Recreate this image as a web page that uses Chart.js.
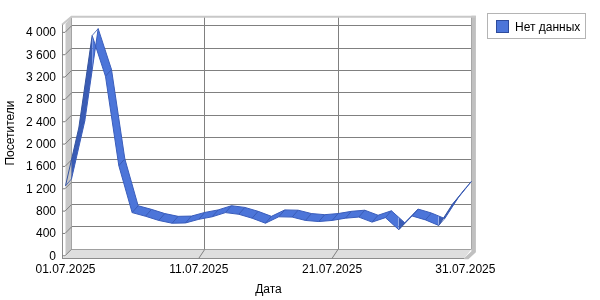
<!DOCTYPE html>
<html lang="ru">
<head>
    <meta charset="UTF-8">
    <title>Посетители</title>
    <script src="https://cdn.jsdelivr.net/npm/chart.js"></script>
    <style>
        body { margin: 0; background: #fff; font-family: 'Liberation Sans', Arial, sans-serif; }
        .wrap { position: relative; width: 600px; height: 300px; }
        /* Legende als HTML-Kasten rechts oben */
        .legend { position: absolute; left: 487px; top: 13px; width: 97px; height: 24px;
                  border: 1px solid #b4b4b4; font-size: 12px; line-height: 14px; color: #000; }
        .legend i { position: absolute; left: 8px; top: 6px; width: 11px; height: 11px;
                    background: #4c75d9; border: 1px solid #2d4b9c; }
        .legend span { position: absolute; left: 27px; top: 6px; white-space: nowrap; }
    </style>
</head>
<body>
<div class="wrap">
    <canvas id="chart" width="600" height="300"></canvas>
    <div class="legend"><i></i><span>Нет данных</span></div>
</div>
<script>
    // --- Daten ---
    const seriesName = 'Нет данных';
    const dayNumbers = [1, 2, 3, 4, 5, 6, 7, 8, 9, 10, 11, 12, 13, 14, 15, 16,
                        17, 18, 19, 20, 21, 22, 23, 24, 25, 26, 27, 28, 29, 30, 31];
    const visitors = [1260, 2300, 3950, 3220, 1620, 780, 715, 640, 590, 595, 660,
                      705, 780, 750, 680, 590, 705, 700, 640, 620, 640, 680,
                      700, 610, 690, 475, 720, 650, 550, 920, 1215];
    const xTickDays = [1, 11, 21, 31];
    const xTickLabels = ['01.07.2025', '11.07.2025', '21.07.2025', '31.07.2025'];
    const yTickValues = [0, 400, 800, 1200, 1600, 2000, 2400, 2800, 3200, 3600, 4000];

    // --- 3D-Geometrie (Pixel) ---
    const AREA_LEFT = 65.5, AREA_TOP = 13, AREA_RIGHT = 471.4, AREA_BOTTOM = 249.3;
    const RIB_DX = 6, RIB_DY = 7;          // Tiefe des Bandes
    const FRONT_X = 62;                    // vordere Achse
    const Y_MAX = 4164;
    const pxPerDay = (AREA_RIGHT - AREA_LEFT) / (31 - 1 + RIB_DX / 13.33);
    const X_MIN = 1 - RIB_DX / pxPerDay;
    const Y_SHIFT = RIB_DY * Y_MAX / (AREA_BOTTOM - AREA_TOP);

    const light = '#4c75d9', dark = '#3a5cb5', edge = '#3a5dbb';
    const fmt = v => String(v).replace(/\B(?=(\d{3})+(?!\d))/g, ' ');

    Chart.defaults.font.family = "'Liberation Sans', Arial, sans-serif";
    Chart.defaults.font.size = 12;
    Chart.defaults.color = '#000';

    // Wände, Boden und vordere Achsen
    const wall3d = {
        id: 'wall3d',
        beforeDatasetsDraw(chart) {
            const { ctx, chartArea: a, scales: { x, y } } = chart;
            const wl = x.getPixelForValue(1), wr = x.getPixelForValue(31);
            const fb = y.getPixelForValue(0), top = a.top;
            ctx.save();
            // Seitenwand links
            ctx.fillStyle = '#c8c8c8';
            ctx.beginPath();
            ctx.moveTo(wl, top); ctx.lineTo(wl, fb);
            ctx.lineTo(wl - 6, fb + 7); ctx.lineTo(wl - 6, top + 7);
            ctx.closePath(); ctx.fill();
            // Boden
            ctx.fillStyle = '#dedede';
            ctx.beginPath();
            ctx.moveTo(wl, fb); ctx.lineTo(wr, fb);
            ctx.lineTo(wr - 7, fb + 8.7); ctx.lineTo(FRONT_X, fb + 8.7);
            ctx.lineTo(wl - 6, fb + 7);
            ctx.closePath(); ctx.fill();
            ctx.strokeStyle = '#a0a0a0'; ctx.lineWidth = 1;
            ctx.beginPath();
            ctx.moveTo(wl, Math.round(fb) + 0.5); ctx.lineTo(wr, Math.round(fb) + 0.5);
            ctx.stroke();
            // rechte Kante
            ctx.fillStyle = '#c0c0c0';
            ctx.beginPath();
            ctx.moveTo(wr, top - 1); ctx.lineTo(wr + 4.5, top - 1);
            ctx.lineTo(wr + 4.5, fb + 3); ctx.lineTo(wr - 3, fb + 10); ctx.lineTo(wr - 7, fb + 10);
            ctx.lineTo(wr - 7, fb + 8.7); ctx.lineTo(wr, fb + 2);
            ctx.closePath(); ctx.fill();
            // obere Kante
            ctx.strokeStyle = '#c8c8c8'; ctx.lineWidth = 2;
            ctx.beginPath();
            ctx.moveTo(FRONT_X, top + 8); ctx.lineTo(wl, top); ctx.lineTo(wr + 4.5, top);
            ctx.stroke();
            // vordere Achsen
            ctx.strokeStyle = '#8c8c8c'; ctx.lineWidth = 1;
            ctx.beginPath();
            ctx.moveTo(FRONT_X + 0.5, top + 8); ctx.lineTo(FRONT_X + 0.5, fb + 9);
            ctx.moveTo(FRONT_X, fb + 9.2); ctx.lineTo(wr - 7, fb + 9.2);
            ctx.stroke();
            ctx.strokeStyle = '#808080';
            ctx.beginPath();
            yTickValues.forEach(v => {
                const py = y.getPixelForValue(v);
                ctx.moveTo(FRONT_X, py + 6.5); ctx.lineTo(wl - 6.5, py + 6.5); ctx.lineTo(wl, py);
            });
            xTickDays.slice(1, -1).forEach(d => {
                const px = x.getPixelForValue(d);
                ctx.moveTo(px, fb); ctx.lineTo(px - 6, fb + 9);
            });
            ctx.stroke();
            ctx.restore();
        },
        afterDatasetsDraw(chart) {
            // Querlinien an den Knoten des Bandes
            const back = chart.getDatasetMeta(0).data, front = chart.getDatasetMeta(1).data;
            const ctx = chart.ctx;
            ctx.save();
            ctx.strokeStyle = '#3556ad'; ctx.lineWidth = 0.8;
            ctx.beginPath();
            back.forEach((p, i) => { ctx.moveTo(p.x, p.y); ctx.lineTo(front[i].x, front[i].y); });
            ctx.stroke();
            ctx.restore();
        }
    };

    const points = dayNumbers.map((d, i) => ({ x: d, y: visitors[i] }));

    new Chart(document.getElementById('chart'), {
        type: 'line',
        data: {
            datasets: [{
                label: seriesName,
                data: points,
                xAxisID: 'x', yAxisID: 'y',
                borderColor: edge, borderWidth: 1,
                pointRadius: 0, fill: false, clip: false
            }, {
                label: seriesName,
                data: points,
                xAxisID: 'xF', yAxisID: 'yF',
                borderColor: edge, borderWidth: 1,
                pointRadius: 0, clip: false,
                fill: '-1',
                backgroundColor: light,
                segment: {
                    // Unterseite des Bandes bei steilem Anstieg
                    backgroundColor: c => ((c.p1.x - c.p0.x) + (c.p1.y - c.p0.y)) < 0 ? dark : light,
                    borderColor: c => ((c.p1.x - c.p0.x) + (c.p1.y - c.p0.y)) < 0 ? '#34539f' : edge
                }
            }]
        },
        options: {
            responsive: false,
            animation: false,
            layout: { padding: { left: 0, top: AREA_TOP, right: 600 - AREA_RIGHT, bottom: 0 } },
            plugins: { legend: { display: false }, tooltip: { enabled: false } },
            scales: {
                x: {
                    type: 'linear', min: X_MIN, max: 31,
                    afterBuildTicks: s => { s.ticks = xTickDays.map(v => ({ value: v })); },
                    afterFit: s => { s.height = 300 - AREA_BOTTOM; },
                    ticks: {
                        autoSkip: false, maxRotation: 0, padding: 13, labelOffset: -6,
                        callback: v => xTickLabels[xTickDays.indexOf(v)]
                    },
                    grid: { color: '#808080', drawTicks: false },
                    border: { display: false },
                    title: { display: true, text: 'Дата', padding: { top: 3, bottom: 3 } }
                },
                y: {
                    type: 'linear', min: 0, max: Y_MAX,
                    afterBuildTicks: s => { s.ticks = yTickValues.map(v => ({ value: v })); },
                    afterFit: s => { s.width = AREA_LEFT; },
                    ticks: { padding: 9.5, labelOffset: 7, callback: v => fmt(v) },
                    grid: { color: '#808080', drawTicks: false },
                    border: { display: false },
                    title: { display: true, text: 'Посетители', padding: { top: 3, bottom: 3 } }
                },
                xF: { type: 'linear', display: false, min: X_MIN + RIB_DX / pxPerDay, max: 31 + RIB_DX / pxPerDay },
                yF: { type: 'linear', display: false, min: Y_SHIFT, max: Y_MAX + Y_SHIFT }
            }
        },
        plugins: [wall3d]
    });
</script>
</body>
</html>
